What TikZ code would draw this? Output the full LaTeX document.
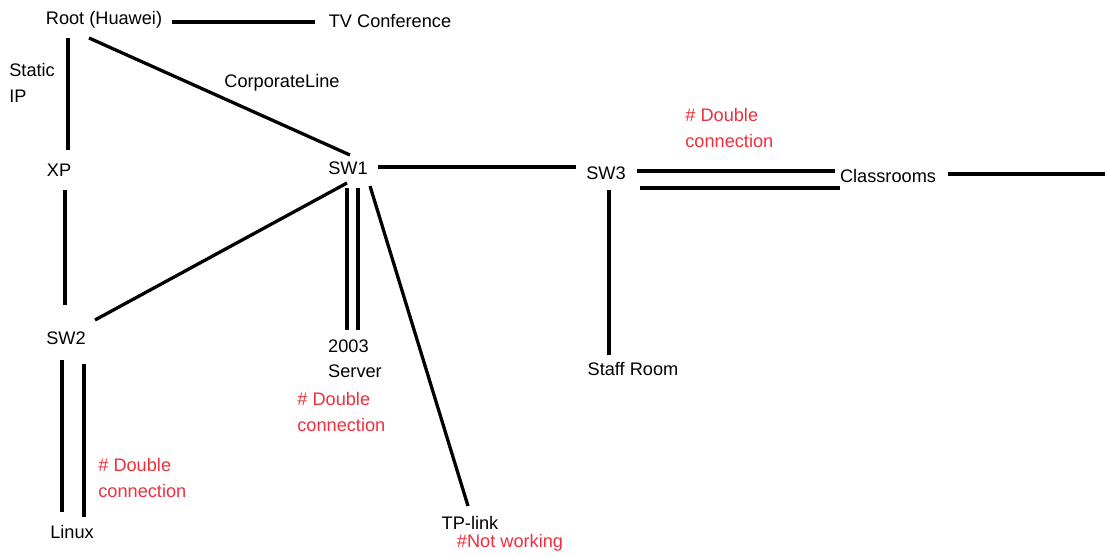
\documentclass[tikz,border=0pt]{standalone}
\usepackage{fontspec}
\setmainfont{Liberation Sans}
\usepackage{xcolor}
\definecolor{notered}{RGB}{238,48,62}

\begin{document}
\begin{tikzpicture}[x=0.55pt,y=-0.55pt]
\tikzstyle{device}=[inner sep=0pt,font=\normalsize]
\tikzstyle{note}=[inner sep=0pt,anchor=west,align=left,text=notered]
\tikzstyle{link}=[line width=1.8pt]

\useasboundingbox (0,0) rectangle (1105,556);

%--- nodes ---
\node[device] (root) at (104,20) {Root (Huawei)};
\node[device] (tv) at (390,21) {TV Conference};
\node[device] (xp) at (59,170) {XP};
\node[device] (sw1) at (348,168) {SW1};
\node[device] (sw2) at (66,338) {SW2};
\node[device] (sw3) at (606,173) {SW3};
\node[device] (linux) at (72,532) {Linux};
\node[device,align=left] (server) at (355,359) {2003\\[2pt]Server};
\node[device] (tplink) at (470,523) {TP-link};
\node[device] (staff) at (633,369) {Staff Room};
\node[device] (classrooms) at (888,176) {Classrooms};
\coordinate (out) at (1105,174);

%--- labels ---
\node[device,anchor=west,align=left] (staticip) at (9,83) {Static\\[2pt]IP};
\node[device] (corporate) at (282,83) {CorporateLine};
\node[note] (note2) at (98,478) {\# Double\\[2pt]connection};
\node[note] (note1) at (297,412) {\# Double\\[2pt]connection};
\node[note] (note3) at (685,128) {\# Double\\[2pt]connection};
\node[note,anchor=center] (broken) at (510,543) {\#Not working};

%--- single links ---
\path[link]
  ([shift={(68,2)}]root.center) edge ([shift={(-75,1)}]tv.center)
  ([shift={(-36,18)}]root.center) edge ([shift={(9,-20)}]xp.center)
  ([shift={(-15,18)}]root.center) edge ([shift={(2,-13)}]sw1.center)
  ([shift={(30,-1)}]sw1.center) edge ([shift={(-30,-6)}]sw3.center)
  ([shift={(6,20)}]xp.center) edge ([shift={(-1,-33)}]sw2.center)
  ([shift={(29,-18)}]sw2.center) edge ([shift={(-1,15)}]sw1.center)
  ([shift={(22,18)}]sw1.center) edge ([shift={(-2,-17)}]tplink.center)
  ([shift={(3,17)}]sw3.center) edge ([shift={(-24,-14)}]staff.center)
  ([shift={(60,-2)}]classrooms.center) edge (out);

%--- double links ---
\path[link]
  ([shift={(-4,22)}]sw2.center) edge ([shift={(-10,-20)}]linux.center)
  ([shift={(18,26)}]sw2.center) edge ([shift={(12,-15)}]linux.center)
  ([shift={(-1,20)}]sw1.center) edge ([shift={(-8,-29)}]server.center)
  ([shift={(10,20)}]sw1.center) edge ([shift={(3,-29)}]server.center)
  ([shift={(31,-2)}]sw3.center) edge ([shift={(-53,-5)}]classrooms.center)
  ([shift={(34,15)}]sw3.center) edge ([shift={(-48,12)}]classrooms.center);

\end{tikzpicture}
\end{document}
